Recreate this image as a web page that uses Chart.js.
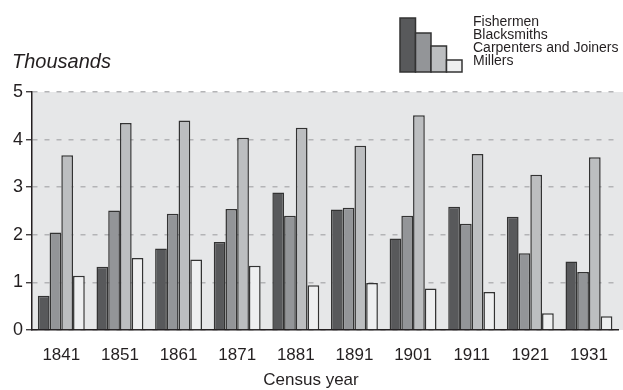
<!DOCTYPE html>
<html>
<head>
<meta charset="utf-8">
<script src="https://cdn.jsdelivr.net/npm/chart.js@4/dist/chart.umd.min.js"></script>
<style>
  html, body { margin: 0; padding: 0; background: #fff; overflow: hidden; }
  #wrap { width: 623px; height: 390px; position: relative; }
</style>
</head>
<body>
<div id="wrap"><canvas id="myChart1"></canvas></div>
<script>
const years = ['1841', '1851', '1861', '1871', '1881', '1891', '1901', '1911', '1921', '1931'];
const fishermen   = [0.72, 1.33, 1.71, 1.85, 2.89, 2.53, 1.92, 2.59, 2.38, 1.44];
const blacksmiths = [2.05, 2.51, 2.44, 2.54, 2.40, 2.57, 2.40, 2.23, 1.61, 1.22];
const carpenters  = [3.67, 4.35, 4.40, 4.04, 4.25, 3.87, 4.51, 3.70, 3.26, 3.63];
const millers     = [1.14, 1.51, 1.48, 1.35, 0.94, 0.99, 0.87, 0.80, 0.35, 0.29];
const yTicks = [0, 1, 2, 3, 4, 5];

const seriesNames = ['Fishermen', 'Blacksmiths', 'Carpenters and Joiners', 'Millers'];
const seriesColors = ['#58595b', '#939598', '#bcbec0', '#eeeff0'];
const ink = '#231f20';
const font = "'Liberation Sans', Arial, sans-serif";

// grey plot panel behind the bars, run out to the right edge
const panel = {
  id: 'panel',
  beforeDraw(chart) {
    const a = chart.chartArea;
    const ctx = chart.ctx;
    ctx.save();
    ctx.fillStyle = '#e6e7e8';
    ctx.fillRect(a.left, a.top, chart.width - a.left, a.bottom - a.top);
    ctx.restore();
  }
};

// stepped legend block, axis unit and axis title
const extras = {
  id: 'extras',
  afterDraw(chart) {
    const ctx = chart.ctx;
    ctx.save();
    const heights = [54, 39, 26, 12];
    const bottom = 72;
    let x = 400;
    for (let i = 0; i < 4; i++) {
      ctx.fillStyle = seriesColors[i];
      ctx.fillRect(x, bottom - heights[i], 15.5, heights[i]);
      ctx.strokeStyle = '#333';
      ctx.lineWidth = 1.5;
      ctx.strokeRect(x, bottom - heights[i], 15.5, heights[i]);
      x += 15.5;
    }
    ctx.fillStyle = ink;
    ctx.font = '14px ' + font;
    ctx.textBaseline = 'middle';
    ctx.textAlign = 'left';
    seriesNames.forEach((n, i) => ctx.fillText(n, 473, 22.5 + i * 13));

    ctx.font = 'italic 20px ' + font;
    ctx.fillText('Thousands', 12, 62);

    ctx.font = '17px ' + font;
    ctx.textAlign = 'center';
    ctx.fillText('Census year', 311, 380);
    ctx.restore();
  }
};

const datasets = [fishermen, blacksmiths, carpenters, millers].map((d, i) => ({
  label: seriesNames[i],
  data: d,
  backgroundColor: seriesColors[i],
  borderColor: '#333',
  borderWidth: 1.5,
  categoryPercentage: 0.8,
  barPercentage: 1.0
}));

const ctx = document.getElementById('myChart1');
const myChart = new Chart(ctx, {
  type: 'bar',
  data: { labels: years, datasets: datasets },
  options: {
    responsive: true,
    maintainAspectRatio: false,
    animation: false,
    layout: { padding: { top: 92, right: 3, left: 0, bottom: 0 } },
    plugins: {
      legend: { display: false },
      tooltip: { enabled: false }
    },
    scales: {
      x: {
        grid: { display: false, drawTicks: false },
        border: { display: true, color: ink, width: 1.5 },
        ticks: { color: ink, font: { family: font, size: 17 }, padding: 15, maxRotation: 0 },
        afterFit(scale) { scale.height = 60; }
      },
      y: {
        min: 0,
        max: 5,
        afterBuildTicks(scale) { scale.ticks = yTicks.map(v => ({ value: v })); },
        grid: {
          color: '#b3b4b6',
          lineWidth: 1.5,
          tickColor: ink,
          tickBorderDash: [],
          tickLength: 6,
          tickWidth: 1.2
        },
        border: { display: true, color: ink, width: 1.5, dash: [5, 7] },
        ticks: { color: ink, font: { family: font, size: 18 }, padding: 3 },
        afterFit(scale) { scale.width = 32; }
      }
    }
  },
  plugins: [panel, extras]
});
</script>
</body>
</html>
